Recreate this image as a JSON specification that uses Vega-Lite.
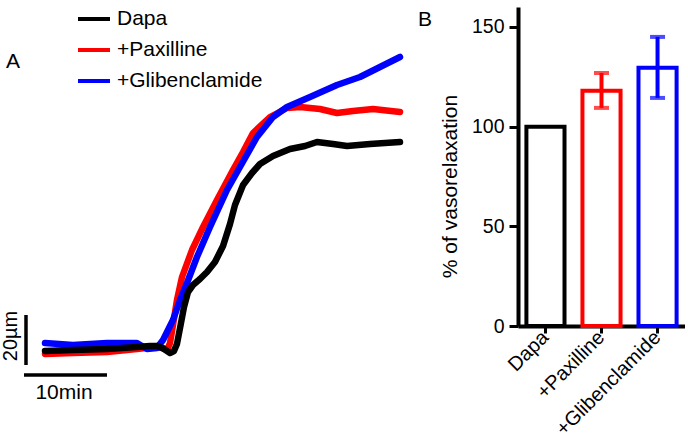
{
  "$schema": "https://vega.github.io/schema/vega-lite/v6.json",
  "padding": {"top": 1, "left": 0, "right": 0, "bottom": 0},
  "background": "white",
  "spacing": 18,
  "bounds": "flush",
  "config": {
    "view": {"stroke": null},
    "font": "Liberation Sans",
    "text": {"font": "Liberation Sans", "color": "black"}
  },
  "datasets": {
    "traces": [
      {"group": "+Paxilline", "t": 0.00, "d": -1.6},
      {"group": "+Paxilline", "t": 3.37, "d": -1.2},
      {"group": "+Paxilline", "t": 7.47, "d": -0.8},
      {"group": "+Paxilline", "t": 11.08, "d": 0.4},
      {"group": "+Paxilline", "t": 13.25, "d": 1.2},
      {"group": "+Paxilline", "t": 14.22, "d": 0.8},
      {"group": "+Paxilline", "t": 14.70, "d": 0.0},
      {"group": "+Paxilline", "t": 15.06, "d": 2.8},
      {"group": "+Paxilline", "t": 15.42, "d": 10.0},
      {"group": "+Paxilline", "t": 15.90, "d": 20.0},
      {"group": "+Paxilline", "t": 16.51, "d": 29.2},
      {"group": "+Paxilline", "t": 17.71, "d": 40.0},
      {"group": "+Paxilline", "t": 19.04, "d": 49.2},
      {"group": "+Paxilline", "t": 20.72, "d": 60.0},
      {"group": "+Paxilline", "t": 22.65, "d": 72.0},
      {"group": "+Paxilline", "t": 23.86, "d": 79.2},
      {"group": "+Paxilline", "t": 25.06, "d": 86.8},
      {"group": "+Paxilline", "t": 27.11, "d": 93.2},
      {"group": "+Paxilline", "t": 29.16, "d": 96.8},
      {"group": "+Paxilline", "t": 30.72, "d": 97.2},
      {"group": "+Paxilline", "t": 33.13, "d": 96.4},
      {"group": "+Paxilline", "t": 35.18, "d": 94.8},
      {"group": "+Paxilline", "t": 37.11, "d": 95.6},
      {"group": "+Paxilline", "t": 39.52, "d": 96.4},
      {"group": "+Paxilline", "t": 42.77, "d": 95.2},
      {"group": "+Glibenclamide", "t": 0.00, "d": 2.8},
      {"group": "+Glibenclamide", "t": 3.37, "d": 2.0},
      {"group": "+Glibenclamide", "t": 7.47, "d": 2.8},
      {"group": "+Glibenclamide", "t": 11.08, "d": 2.8},
      {"group": "+Glibenclamide", "t": 12.29, "d": 0.4},
      {"group": "+Glibenclamide", "t": 13.49, "d": 0.8},
      {"group": "+Glibenclamide", "t": 14.22, "d": 4.0},
      {"group": "+Glibenclamide", "t": 15.42, "d": 12.0},
      {"group": "+Glibenclamide", "t": 16.27, "d": 20.0},
      {"group": "+Glibenclamide", "t": 17.11, "d": 26.8},
      {"group": "+Glibenclamide", "t": 18.31, "d": 37.2},
      {"group": "+Glibenclamide", "t": 19.88, "d": 49.2},
      {"group": "+Glibenclamide", "t": 21.93, "d": 64.0},
      {"group": "+Glibenclamide", "t": 23.49, "d": 73.2},
      {"group": "+Glibenclamide", "t": 25.54, "d": 85.2},
      {"group": "+Glibenclamide", "t": 27.47, "d": 93.2},
      {"group": "+Glibenclamide", "t": 29.16, "d": 97.2},
      {"group": "+Glibenclamide", "t": 31.93, "d": 101.2},
      {"group": "+Glibenclamide", "t": 35.18, "d": 106.0},
      {"group": "+Glibenclamide", "t": 37.95, "d": 109.2},
      {"group": "+Glibenclamide", "t": 40.36, "d": 113.2},
      {"group": "+Glibenclamide", "t": 42.77, "d": 117.2},
      {"group": "Dapa", "t": 0.00, "d": -0.4},
      {"group": "Dapa", "t": 3.37, "d": 0.0},
      {"group": "Dapa", "t": 7.47, "d": 0.4},
      {"group": "Dapa", "t": 11.08, "d": 1.2},
      {"group": "Dapa", "t": 12.65, "d": 1.6},
      {"group": "Dapa", "t": 13.61, "d": 1.6},
      {"group": "Dapa", "t": 14.34, "d": 0.4},
      {"group": "Dapa", "t": 15.06, "d": -1.2},
      {"group": "Dapa", "t": 15.54, "d": -0.4},
      {"group": "Dapa", "t": 15.90, "d": 2.4},
      {"group": "Dapa", "t": 16.27, "d": 8.8},
      {"group": "Dapa", "t": 16.75, "d": 17.2},
      {"group": "Dapa", "t": 17.23, "d": 23.2},
      {"group": "Dapa", "t": 17.83, "d": 26.0},
      {"group": "Dapa", "t": 18.67, "d": 28.4},
      {"group": "Dapa", "t": 19.52, "d": 31.2},
      {"group": "Dapa", "t": 20.48, "d": 35.2},
      {"group": "Dapa", "t": 21.45, "d": 41.6},
      {"group": "Dapa", "t": 22.29, "d": 50.4},
      {"group": "Dapa", "t": 22.89, "d": 58.0},
      {"group": "Dapa", "t": 23.86, "d": 66.0},
      {"group": "Dapa", "t": 24.94, "d": 70.8},
      {"group": "Dapa", "t": 25.90, "d": 74.4},
      {"group": "Dapa", "t": 27.47, "d": 77.6},
      {"group": "Dapa", "t": 29.52, "d": 80.4},
      {"group": "Dapa", "t": 31.33, "d": 81.6},
      {"group": "Dapa", "t": 32.77, "d": 83.2},
      {"group": "Dapa", "t": 34.70, "d": 82.4},
      {"group": "Dapa", "t": 36.39, "d": 81.6},
      {"group": "Dapa", "t": 39.16, "d": 82.4},
      {"group": "Dapa", "t": 40.96, "d": 82.8},
      {"group": "Dapa", "t": 42.77, "d": 83.2}
    ],
    "scalebars": [
      {"bar": "20µm", "t": -2.29, "t2": -2.29, "d": 14, "d2": -6},
      {"bar": "10min", "t": -2.53, "t2": 7.47, "d": -10, "d2": -10}
    ],
    "bars": [
      {"cond": "Dapa", "pct": 100},
      {"cond": "+Paxilline", "pct": 118, "lo": 109.4, "hi": 126.9},
      {"cond": "+Glibenclamide", "pct": 129.5, "lo": 114.4, "hi": 145}
    ]
  },
  "resolve": {"scale": {"color": "independent"}, "legend": {"color": "independent"}},
  "hconcat": [
    {
      "width": 500,
      "height": 400,
      "layer": [
        {
          "data": {"name": "traces"},
          "mark": {"type": "line", "strokeCap": "round", "strokeJoin": "round", "strokeWidth": 6.5},
          "encoding": {
            "x": {"field": "t", "type": "quantitative", "axis": null, "scale": {"domain": [-5.4217, 54.8193], "nice": false, "zero": false}},
            "y": {"field": "d", "type": "quantitative", "axis": null, "scale": {"domain": [-22.8, 137.2], "nice": false, "zero": false}},
            "color": {
              "field": "group", "type": "nominal",
              "scale": {"domain": ["Dapa", "+Paxilline", "+Glibenclamide"], "range": ["#000000", "#ff0000", "#0000ff"]},
              "legend": {
                "title": null, "orient": "none", "legendX": 76, "legendY": -6,
                "symbolType": "stroke", "symbolSize": 1024, "symbolStrokeWidth": 4,
                "labelFontSize": 21, "labelFont": "Liberation Sans", "labelColor": "black",
                "labelOffset": 5, "rowPadding": 3, "padding": 0, "labelLimit": 300
              }
            }
          }
        },
        {
          "data": {"name": "scalebars"},
          "mark": {"type": "rule", "color": "black", "strokeWidth": 3.5},
          "encoding": {
            "x": {"field": "t", "type": "quantitative"},
            "x2": {"field": "t2"},
            "y": {"field": "d", "type": "quantitative"},
            "y2": {"field": "d2"}
          }
        },
        {
          "data": {"values": [{"label": "20µm", "t": -4.10, "d": 5.6}]},
          "mark": {"type": "text", "angle": 270, "fontSize": 20, "align": "center", "baseline": "middle"},
          "encoding": {
            "x": {"field": "t", "type": "quantitative"},
            "y": {"field": "d", "type": "quantitative"},
            "text": {"field": "label"}
          }
        },
        {
          "data": {"values": [
            {"label": "10min", "t": 2.29, "d": -17.2},
            {"label": "A", "t": -3.86, "d": 115.2},
            {"label": "B", "t": 45.78, "d": 132}
          ]},
          "mark": {"type": "text", "fontSize": 21, "align": "center", "baseline": "middle"},
          "encoding": {
            "x": {"field": "t", "type": "quantitative"},
            "y": {"field": "d", "type": "quantitative"},
            "text": {"field": "label"}
          }
        }
      ]
    },
    {
      "width": 167,
      "height": 319,
      "data": {"name": "bars"},
      "encoding": {
        "x": {
          "field": "cond", "type": "nominal", "sort": ["Dapa", "+Paxilline", "+Glibenclamide"],
          "scale": {"paddingInner": 0.32, "paddingOuter": 0.15},
          "axis": {
            "title": null, "labelAngle": -45, "labelAlign": "right", "labelBaseline": "middle",
            "labelFontSize": 20, "labelColor": "black", "labelFont": "Liberation Sans",
            "tickSize": 7, "tickWidth": 3, "tickColor": "black", "domainWidth": 4, "domainColor": "black", "labelPadding": 1
          }
        }
      },
      "layer": [
        {
          "mark": {"type": "bar", "filled": false, "strokeWidth": 4},
          "encoding": {
            "y": {
              "field": "pct", "type": "quantitative",
              "scale": {"domain": [0, 160], "nice": false},
              "axis": {
                "values": [0, 50, 100, 150], "grid": false, "title": "% of vasorelaxation",
                "titleFontSize": 21, "titleFontWeight": "normal", "titleFont": "Liberation Sans", "titleColor": "black",
                "titleX": -68, "titleY": 179, "titleAlign": "center", "titleBaseline": "middle", "titleAngle": -90,
                "labelFontSize": 19.5, "labelColor": "black", "labelFont": "Liberation Sans", "labelPadding": 5,
                "tickSize": 9, "tickWidth": 3, "tickColor": "black", "domainWidth": 4, "domainColor": "black"
              }
            },
            "color": {
              "field": "cond", "type": "nominal",
              "scale": {"domain": ["Dapa", "+Paxilline", "+Glibenclamide"], "range": ["#000000", "#ff0000", "#0000ff"]},
              "legend": null
            }
          }
        },
        {
          "transform": [{"filter": "isValid(datum.lo)"}],
          "mark": {"type": "rule", "strokeWidth": 4},
          "encoding": {
            "y": {"field": "lo", "type": "quantitative"},
            "y2": {"field": "hi"},
            "color": {"field": "cond", "type": "nominal", "legend": null}
          }
        },
        {
          "transform": [{"filter": "isValid(datum.lo)"}],
          "mark": {"type": "tick", "size": 15, "thickness": 4},
          "encoding": {
            "y": {"field": "lo", "type": "quantitative"},
            "color": {"field": "cond", "type": "nominal", "legend": null}
          }
        },
        {
          "transform": [{"filter": "isValid(datum.lo)"}],
          "mark": {"type": "tick", "size": 15, "thickness": 4},
          "encoding": {
            "y": {"field": "hi", "type": "quantitative"},
            "color": {"field": "cond", "type": "nominal", "legend": null}
          }
        }
      ]
    }
  ]
}
